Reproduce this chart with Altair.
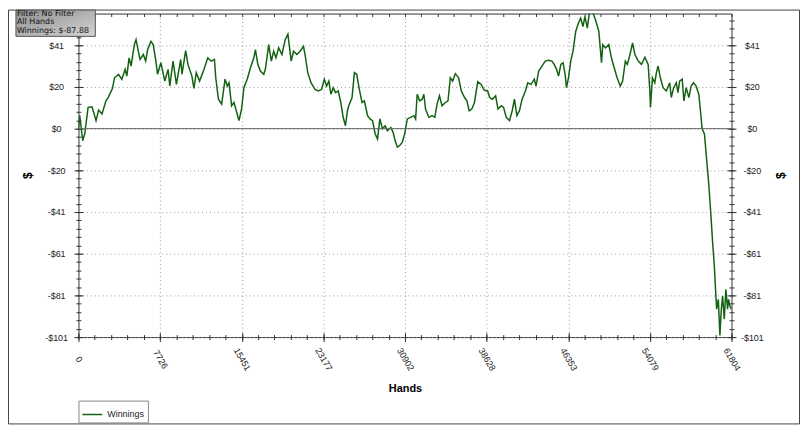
import altair as alt
import pandas as pd
import numpy as np

# ---------------- data ----------------
hands = [0, 122, 404, 592, 911, 1287, 1663, 1907, 2226, 2602,
         2846, 3222, 3410, 3785, 4105, 4415, 4574, 4790, 4978, 5288,
         5448, 5664, 5824, 6134, 6359, 6547, 6857, 7073, 7327, 7486,
         7796, 8172, 8482, 8642, 8952, 9271, 9675, 9797, 10144, 10360,
         10736, 10924, 11149, 11459, 11769, 12239, 12558, 12868,
         12993, 13244, 13554, 13873, 14090, 14249, 14493, 14719, 14935, 15189,
         15433, 15658, 15968, 16278, 16597, 16748, 16973, 17217, 17537, 17687,
         18006, 18250, 18476, 18692, 18946, 19256, 19566, 19819, 19979, 20129,
         20354, 20665, 20975, 21294, 21444, 21698, 22008, 22384, 22703, 23013,
         23266, 23483, 23699, 23887, 24112, 24328, 24582, 24826, 25051, 25267,
         25455, 25578,
         25893, 26113, 26330, 26582, 26836, 27052, 27362, 27586, 27831, 28085,
         28301, 28527, 28771, 29024, 29240, 29560, 29776, 29964, 30180, 30406,
         30650, 30903, 31119, 31439, 31748, 31908, 32058, 32284, 32528, 32688,
         32847, 33157, 33467, 33721, 33937, 34163, 34407, 34726, 34970, 35196,
         35412, 35665, 35975, 36229, 36539, 36755, 36981, 37225, 37478, 37788,
         38108, 38417, 38727,
         38915, 39169, 39479, 39704, 40014, 40230, 40484, 40794, 41047, 41263,
         41489, 41733, 41987, 42297, 42522, 42832, 43142, 43302, 43555, 43865,
         44175, 44495, 44804, 45020, 45246, 45434, 45650, 45866, 46054, 46185,
         46373, 46589, 46805, 47059, 47312, 47528, 47744, 47932, 48157, 48373,
         48627, 48937, 49247, 49501, 49621, 49875, 50185, 50438, 50654, 50974,
         51284, 51500, 51755,
         51943, 52196, 52440, 52666, 52976, 53286, 53605, 53915, 54075, 54132,
         54320, 54545, 54696, 54855, 55071, 55325, 55635, 55954, 56104, 56330,
         56574, 56734, 56893, 57137, 57297, 57513, 57767, 57983, 58208, 58452,
         58706, 58866, 59016, 59241, 59457, 59645, 59767, 59861, 60020, 60180,
         60274, 60397, 60556, 60706, 60838, 60960, 61120, 61270, 61430, 61524,
         61646, 61804]

winnings = [0, 6.3, -5.8, -2.6, 10.3, 10.6, 3.9, 9.0, 7.1, 13.5,
            15.4, 19.6, 24.7, 26.4, 24.0, 28.8, 25.5, 34.4, 30.4, 40.8,
            43.2, 37.6, 33.6, 36.0, 32.8, 38.4, 42.4, 40.8, 32.8, 26.4,
            32.0, 23.1, 28.8, 20.7, 32.8, 21.5, 33.6, 26.4, 37.9, 31.2,
            25.5, 19.6, 27.2, 23.1, 27.2, 34.4, 32.8, 33.6,
            24.7, 14.3, 11.9, 24.0, 20.7, 22.3, 11.1, 12.7, 8.7, 3.9,
            9.5, 19.9, 24.0, 29.6, 34.4, 38.4, 31.2, 28.0, 26.4, 28.8,
            40.8, 32.8, 37.6, 34.4, 39.2, 36.0, 43.2, 45.9, 39.2, 32.8,
            37.6, 36.0, 37.6, 40.0, 36.0, 27.2, 22.3, 19.1, 18.3, 19.1,
            24.0, 20.7, 23.1, 16.7, 19.9, 17.5, 18.3, 12.7, 5.5, 1.4,
            8.7, 11.1,
            15.1, 27.2, 26.4, 19.1, 12.7, 13.5, 6.3, 4.7, 3.9, -2.6,
            -5.0, 4.7, 0, 1.4, -1.0, 0.6, -1.8, -5.8, -9.0, -8.2,
            -6.6, -1.8, 4.7, 5.5, 6.3, 4.7, 16.7, 13.5, 14.3, 16.7,
            9.5, 5.5, 6.3, 5.5, 11.9, 15.9, 11.1, 12.7, 13.5, 24.7,
            23.1, 26.7, 24.7, 18.3, 15.1, 13.5, 8.7, 9.5, 12.7, 22.8,
            21.5, 18.6, 18.3,
            15.1, 14.3, 15.9, 9.5, 11.1, 10.3, 5.5, 3.9, 8.7, 14.3,
            6.3, 8.7, 14.3, 18.3, 22.3, 21.5, 24.0, 20.7, 28.0, 30.4,
            32.8, 33.2, 32.8, 31.2, 28.8, 25.5, 31.2, 32.0, 26.4, 19.9,
            24.7, 32.8, 37.6, 47.2, 51.2, 53.6, 49.6, 54.4, 48.8, 57.0,
            57.0, 52.8, 47.2, 32.0, 40.8, 39.2, 40.8, 34.4, 30.4, 24.7,
            20.7, 23.1, 32.8,
            31.2, 36.0, 41.6, 36.0, 32.8, 31.2, 34.7, 31.2, 18.3, 10.3,
            24.7, 22.3, 27.2, 30.4, 24.7, 19.9, 18.3, 22.3, 15.1, 19.9,
            22.3, 17.5, 23.1, 24.0, 13.5, 19.9, 15.1, 20.7, 22.3, 20.7,
            16.7, 8.7, 0, -2.6, -15.4, -26.7, -35.5, -42.7, -55.6, -66.8,
            -76.5, -87.7, -82.9, -100.5, -87.7, -81.3, -92.5, -78.1, -87.7, -82.9,
            -86.0, -87.88]

series_name = "Winnings"
final_winnings = -87.88
info_lines = ["Filter: No Filter", "All Hands", f"Winnings: ${final_winnings:.2f}"]

x_major = [0, 7726, 15451, 23177, 30902, 38628, 46353, 54079, 61804]
y_major = [-101.25, -81.0, -60.75, -40.5, -20.25, 0.0, 20.25, 40.5]
x_domain = [0, 61804]
y_domain = [-101.25, 55.9]
x_minor = [x_domain[1] * i / 40 for i in range(41)]
y_minor = [round(-101.25 + 4.05 * i, 2) for i in range(39)]

# ---------------- styling ----------------
W, H = 658, 326
FONT = "Liberation Sans"
LINE_COLOR = "#126212"
TICK_COLOR = "#333333"
ylab = "(datum.value < 0 ? '-$' : '$') + format(abs(datum.value), '.0f')"

df = pd.DataFrame({"hands": hands, "winnings": winnings, "series": series_name})
one = pd.DataFrame({"k": [0]})
zero_df = pd.DataFrame({"v": [0.0]})

xs = alt.Scale(domain=x_domain, nice=False, zero=False)
ys = alt.Scale(domain=y_domain, nice=False, zero=False)


def tick_axis(orient, values, size, offset):
    return alt.Axis(orient=orient, values=values, labels=False, domain=False, grid=False,
                    ticks=True, tickSize=size, offset=offset, tickColor=TICK_COLOR,
                    tickWidth=1, title=None)


def label_axis_y(orient, pad, title_x):
    return alt.Axis(orient=orient, values=y_major, labelExpr=ylab, ticks=False, tickSize=0,
                    domain=False, grid=(orient == "left"), gridColor="#999999",
                    gridDash=[1, 3], gridWidth=1, labelPadding=pad, labelAlign="center",
                    labelBaseline="middle", labelFont=FONT, labelFontSize=9,
                    labelColor="#222222", labelOverlap=False, labelFlush=False,
                    title="$", titleFont=FONT, titleFontSize=12, titleFontWeight="bold",
                    titleColor="#000000", titleX=title_x, titleY=H / 2, titleAngle=270,
                    titleAlign="center", titleBaseline="middle")


x_main_axis = alt.Axis(orient="bottom", values=x_major, format="d", labelAngle=60,
                       labelAlign="center", labelBaseline="middle", labelPadding=22,
                       ticks=False, tickSize=0, domain=False, grid=True, gridColor="#999999",
                       gridDash=[1, 3], gridWidth=1, labelFont=FONT, labelFontSize=9,
                       labelColor="#222222", labelOverlap=False, labelFlush=False,
                       title="Hands", titleFont=FONT, titleFontSize=11, titleFontWeight="bold",
                       titleColor="#000000", titleX=W / 2, titleY=51.5,
                       titleAlign="center", titleBaseline="middle")

base = alt.Chart(df)

main = base.mark_line(clip=True, strokeWidth=1.5).encode(
    x=alt.X("hands:Q", scale=xs, axis=x_main_axis),
    y=alt.Y("winnings:Q", scale=ys, axis=label_axis_y("left", 22.5, -51.5)),
    color=alt.Color("series:N", scale=alt.Scale(domain=[series_name], range=[LINE_COLOR]),
                    legend=alt.Legend(orient="none", legendX=0, legendY=390,
                                      direction="horizontal", title=None,
                                      symbolType="stroke", symbolSize=400,
                                      symbolStrokeWidth=1.5, strokeColor="#888888",
                                      fillColor="#ffffff", padding=3,
                                      labelFont=FONT, labelFontSize=9,
                                      labelColor="#222222")),
)


def ghost(xaxis, yaxis):
    return base.mark_line(strokeOpacity=0).encode(
        x=alt.X("hands:Q", scale=xs, axis=xaxis),
        y=alt.Y("winnings:Q", scale=ys, axis=yaxis),
    )


g2 = ghost(tick_axis("bottom", x_major, 9, -4.5), tick_axis("left", y_major, 9, -4.5))
g3 = ghost(tick_axis("bottom", x_minor, 5, -2.5), tick_axis("left", y_minor, 5, -2.5))
g4 = ghost(tick_axis("top", x_minor, 3, -3), label_axis_y("right", 20.5, 49))
g5 = ghost(None, tick_axis("right", y_major, 9, -4.5))
g6 = ghost(None, tick_axis("right", y_minor, 5, -2.5))

zero_rule = alt.Chart(zero_df).mark_rule(color="#666666", strokeWidth=1).encode(
    y=alt.Y("v:Q", scale=ys, axis=None)
)

frame = alt.Chart(one).mark_rect(fill=None, stroke="#444444", strokeWidth=1).encode(
    x=alt.value(-70.5), x2=alt.value(726.5), y=alt.value(-3.5), y2=alt.value(413.5)
)

info_box = alt.Chart(one).mark_rect(
    fill=alt.LinearGradient(gradient="linear", x1=0, y1=0, x2=1, y2=1,
                            stops=[alt.GradientStop(color="#8e8e8e", offset=0),
                                   alt.GradientStop(color="#d4d4d4", offset=1)]),
    stroke="#555555", strokeWidth=1,
).encode(x=alt.value(-63), x2=alt.value(17), y=alt.value(-3.5), y2=alt.value(23))

info_text = alt.Chart(one).mark_text(
    text=info_lines, align="left", baseline="middle", font="DejaVu Sans", fontSize=8,
    lineHeight=9, color="#111111",
).encode(x=alt.value(-62), y=alt.value(0))

chart = alt.layer(
    frame, main, g2, g3, g4, g5, g6, zero_rule, info_box, info_text
).resolve_axis(x="independent", y="independent").properties(
    width=W, height=H,
    autosize=alt.AutoSizeParams(type="none"),
    padding={"left": 71, "top": 4, "right": 69, "bottom": 88},
    background="#ffffff",
).configure_view(stroke="#333333", strokeWidth=1)

chart.save("out.html", embed_options={"renderer": "svg", "actions": False})
